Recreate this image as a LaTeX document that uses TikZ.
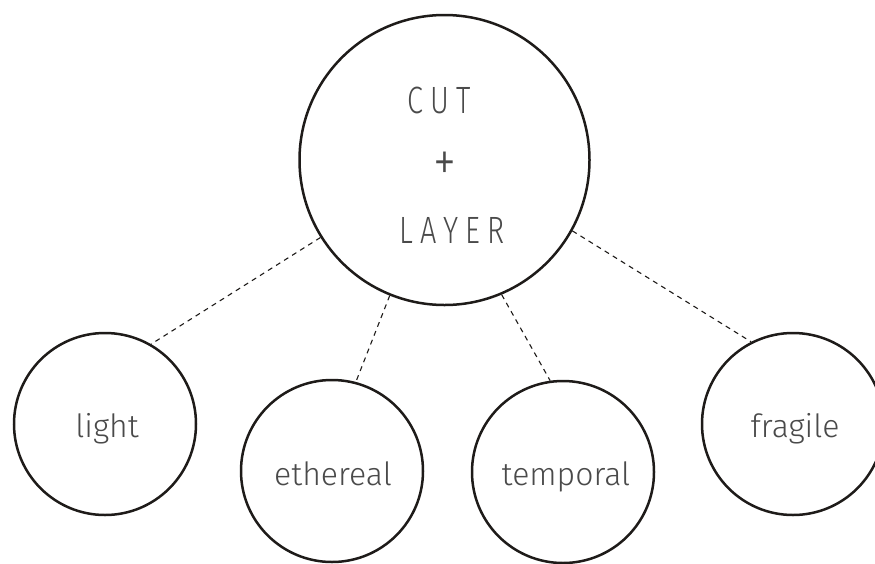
\documentclass[tikz,border=0pt]{standalone}
\usepackage{fontspec}
\IfFontExistsTF{Fira Sans Light}{\setmainfont{Fira Sans Light}}{\setmainfont{Fira Sans}}
\definecolor{ink}{HTML}{1E1B19}
\definecolor{txt}{HTML}{4A4A4A}
\tikzset{
  bigc/.style={circle, draw=ink, line width=2.5pt, minimum size=290pt, inner sep=0pt},
  smallc/.style={circle, draw=ink, line width=2.5pt, minimum size=182pt, inner sep=0pt},
  conn/.style={draw=ink, line width=1.1pt, dash pattern=on 5pt off 4.5pt},
  captxt/.style={text=txt, font=\fontsize{38}{44}\selectfont, inner sep=0pt, anchor=base},
  plustxt/.style={text=txt, font=\fontsize{58}{64}\selectfont, inner sep=0pt, anchor=center},
  lbl/.style={text=txt, font=\fontsize{32}{38}\selectfont, inner sep=0pt, anchor=base},
}
\begin{document}
\begin{tikzpicture}[x=1pt, y=-1pt]
\useasboundingbox[fill=white] (0,0) rectangle (875,563);
\node[bigc] (cut) at (444.5,160) {};
\node[smallc] (light) at (105,424) {};
\node[smallc] (ethereal) at (332,471) {};
\node[smallc] (temporal) at (563,472) {};
\node[smallc] (fragile) at (793,424) {};
\node[captxt] (t1) at (439,113) {\scalebox{0.76}[1]{C\hspace{9pt}U\hspace{9pt}T}};
\node[plustxt] (t2) at (445,167) {\scalebox{0.8}[1]{+}};
\node[captxt] (t3) at (452,243) {\scalebox{0.76}[1]{L\hspace{9pt}A\hspace{9pt}Y\hspace{9pt}E\hspace{9pt}R}};
\node[lbl] (l1) at (107,437) {light};
\node[lbl] (l2) at (333,485) {ethereal};
\node[lbl] (l3) at (566,485) {temporal};
\node[lbl] (l4) at (795,437) {fragile};
\draw[conn] (cut.212) -- (light.60);
\draw[conn] (cut.248) -- (ethereal.75);
\draw[conn] (cut.293) -- (temporal.98);
\draw[conn] (cut.331) -- (fragile.117);
\end{tikzpicture}
\end{document}
